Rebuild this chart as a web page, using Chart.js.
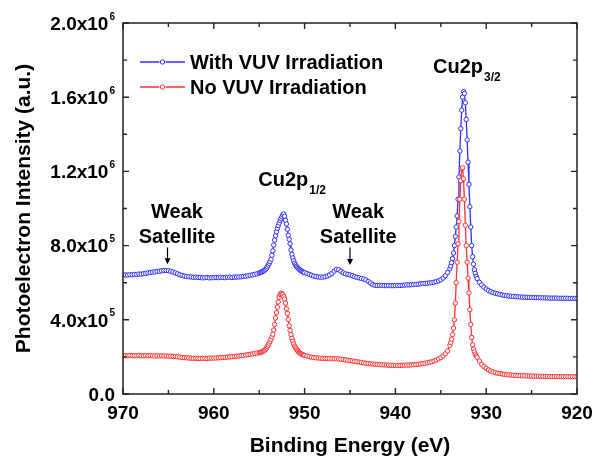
<!DOCTYPE html>
<html><head><meta charset="utf-8">
<script src="https://cdn.jsdelivr.net/npm/chart.js@4.4.1/dist/chart.umd.min.js"></script>
<style>html,body{margin:0;padding:0;background:#fff;}canvas{display:block;}</style>
</head><body>
<canvas id="c" width="594" height="460" style="width:594px;height:460px"></canvas>
<script>
// ---------------- DATA ----------------
// Binding energy (eV), measured grid
const energy = [
 970,969.75,969.5,969.25,969,968.75,968.5,968.25,968,967.75,
 967.5,967.25,967,966.75,966.5,966.25,966,965.75,965.5,965.25,
 965,964.75,964.5,964.25,964,963.75,963.5,963.25,963,962.75,
 962.5,962.25,962,961.75,961.5,961.25,961,960.75,960.5,960.25,
 960,959.75,959.5,959.25,959,958.75,958.5,958.25,958,957.75,
 957.5,957.25,957,956.75,956.5,956.25,956,955.75,955.5,955.25,
 955,954.9,954.8,954.7,954.6,954.5,954.4,954.3,954.2,954.1,
 954,953.9,953.8,953.7,953.6,953.5,953.4,953.3,953.2,953.1,
 953,952.9,952.8,952.7,952.6,952.5,952.4,952.3,952.2,952.1,
 952,951.9,951.8,951.7,951.6,951.5,951.4,951.3,951.2,951.1,
 951,950.9,950.8,950.7,950.6,950.5,950.4,950.3,950.2,950.1,
 950,
 949.75,949.5,949.25,949,948.75,948.5,948.25,948,947.75,947.5,
 947.25,947,946.75,946.5,946.25,946,945.75,945.5,945.25,945,
 944.75,944.5,944.25,944,943.75,943.5,943.25,943,942.75,942.5,
 942.25,942,941.75,941.5,941.25,941,940.75,940.5,940.25,940,
 939.75,939.5,939.25,939,938.75,938.5,938.25,938,937.75,937.5,
 937.25,937,936.75,936.5,936.25,936,935.75,935.5,935.25,935,
 934.75,934.5,934.25,
 934,933.9,933.8,933.7,933.6,933.5,933.4,933.3,933.2,933.1,
 933,932.9,932.8,932.7,932.6,932.5,932.4,932.3,932.2,932.1,
 932,931.9,931.8,931.7,931.6,931.5,931.4,931.3,931.2,931.1,
 931,
 930.75,930.5,930.25,930,929.75,929.5,929.25,929,928.75,928.5,
 928.25,928,927.75,927.5,927.25,927,926.75,926.5,926.25,926,
 925.75,925.5,925.25,925,924.75,924.5,924.25,924,923.75,923.5,
 923.25,923,922.75,922.5,922.25,922,921.75,921.5,921.25,921,
 920.75,920.5,920.25,920
];
// Intensity, thousands of counts
const withVUV = [
 640,642,641,643,642,645,644,647,646,649,
 650,653,654,657,658,661,662,664,666,666,
 665,662,658,653,648,643,639,636,633,632,
 631,629,630,628,628,626,627,628,626,627,
 627,628,627,629,628,627,629,630,628,630,
 630,631,632,634,635,637,640,642,645,648,
 652,654,656,658,661,664,667,672,678,686,
 695,704,714,727,748,772,803,830,853,875,
 893,908,922,935,945,955,966,970,958,936,
 917,888,856,834,810,776,752,734,718,705,
 696,688,682,677,672,668,665,662,659,656,
 654,
 650,645,640,636,633,631,630,630,632,636,
 642,650,662,672,670,662,653,648,645,642,
 638,633,629,626,623,620,615,607,598,590,
 586,585,586,585,584,584,585,584,584,585,
 585,585,586,587,588,588,589,590,591,592,
 594,595,596,597,599,601,603,606,610,616,
 625,638,655,
 675,690,708,730,760,800,850,900,960,1050,
 1170,1310,1430,1530,1600,1630,1620,1570,1480,1370,
 1250,1130,1010,900,800,740,700,670,650,635,
 622,
 602,588,576,566,558,552,547,543,540,537,
 534,532,530,528,527,526,525,524,523,522,
 522,521,521,520,520,519,519,519,518,518,
 518,517,517,517,517,516,516,516,516,516,
 515,515,515,515
];
const noVUV = [
 207,207,206,208,207,206,207,208,206,206,
 207,206,207,206,205,206,205,206,205,205,
 204,204,203,202,200,199,197,196,195,194,
 193,193,192,192,191,192,192,191,193,193,
 194,194,195,196,197,198,199,200,201,202,
 204,205,207,208,210,212,214,216,219,221,
 222,223,225,227,230,233,236,241,248,256,
 264,274,284,295,308,322,345,375,410,438,
 468,496,522,537,543,541,536,525,512,490,
 460,435,402,368,343,320,300,284,270,258,
 250,242,235,229,224,220,217,214,212,210,
 208,
 205,201,198,196,195,194,193,192,192,191,
 191,190,190,190,189,188,186,184,182,180,
 178,176,174,172,170,168,166,164,163,162,
 160,159,158,157,157,156,155,155,155,154,
 154,154,155,155,156,156,157,158,159,160,
 162,164,166,168,171,174,178,183,189,196,
 205,216,232,
 262,278,295,320,355,400,490,600,710,810,
 930,1050,1150,1215,1220,1160,1050,910,800,710,
 625,545,455,375,305,265,242,228,215,205,
 198,
 178,160,148,138,130,124,119,115,112,110,
 108,106,104,103,102,101,100,99,99,98,
 98,97,97,97,96,96,96,95,95,95,
 95,94,94,94,94,94,93,93,93,93,
 93,93,93,93
];
const seriesLabels = ['With VUV Irradiation', 'No VUV Irradiation'];
// Y tick labels (value in thousands, mantissa text, exponent)
const yTickValues   = [0, 400, 800, 1200, 1600, 2000];
const yTickMantissa = ['0.0', '4.0x10', '8.0x10', '1.2x10', '1.6x10', '2.0x10'];
const yTickExponent = ['', '5', '5', '6', '6', '6'];
const xTickValues = [970, 960, 950, 940, 930, 920];
// Annotation texts
const peakLabelMain = ['Cu2p', 'Cu2p'];
const peakLabelSub  = ['3/2', '1/2'];
const satelliteText = ['Weak', 'Satellite'];

// ---------------- STYLE / LAYOUT ----------------
const FONT = '"Liberation Sans", Arial, Helvetica, sans-serif';
const BLUE = '#3030ff', RED = '#ff3030';
// annotation anchors in data coordinates (energy, kcounts)
const peakLabelPos = [{e: 935.85, v: 1730}, {e: 955.1, v: 1121}];
const satPos = [{e: 964.05}, {e: 944.1}];
const satWeakV = 949, satSatV = 815;
const arrowPos = [{e: 965.1, from: 790, to: 700}, {e: 945.0, from: 790, to: 695}];

Chart.defaults.font.family = FONT;
Chart.defaults.color = '#000';

const pts = arr => energy.map((e, i) => ({x: e, y: arr[i]}));

const framePlugin = {
  id: 'frame',
  afterDatasetsDraw(chart) {
    const {ctx, chartArea: a, scales: {x, y}} = chart;
    ctx.save();
    ctx.strokeStyle = '#222';
    ctx.lineWidth = 1.5;
    ctx.strokeRect(a.left, a.top, a.right - a.left, a.bottom - a.top);
    ctx.lineWidth = 1.4;
    ctx.beginPath();
    x.ticks.forEach(t => {
      const px = x.getPixelForValue(t.value);
      const len = (t.value % 10 === 0) ? 6 : 4;
      ctx.moveTo(px, a.bottom); ctx.lineTo(px, a.bottom - len);
      ctx.moveTo(px, a.top); ctx.lineTo(px, a.top + len);
    });
    y.ticks.forEach(t => {
      const py = y.getPixelForValue(t.value);
      const len = (t.value % 400 === 0) ? 6 : 4;
      ctx.moveTo(a.left, py); ctx.lineTo(a.left + len, py);
      ctx.moveTo(a.right, py); ctx.lineTo(a.right - len, py);
    });
    ctx.stroke();
    ctx.restore();
  }
};

const yLabelPlugin = {
  id: 'ylabels',
  afterDraw(chart) {
    const {ctx, chartArea: a, scales: {y}} = chart;
    ctx.save();
    ctx.fillStyle = '#000';
    ctx.textBaseline = 'alphabetic';
    const right = a.left - 8;
    yTickValues.forEach((v, i) => {
      const py = y.getPixelForValue(v);
      ctx.font = 'bold 10px ' + FONT;
      const ew = yTickExponent[i] ? ctx.measureText(yTickExponent[i]).width + 1 : 0;
      ctx.font = 'bold 19px ' + FONT;
      ctx.textAlign = 'right';
      ctx.fillText(yTickMantissa[i], right - ew, py + 6.8);
      if (yTickExponent[i]) {
        ctx.font = 'bold 10px ' + FONT;
        ctx.textAlign = 'left';
        ctx.fillText(yTickExponent[i], right - ew + 1, py - 3.5);
      }
    });
    ctx.restore();
  }
};

const legendPlugin = {
  id: 'customLegend',
  afterDraw(chart) {
    const {ctx, chartArea: a} = chart;
    ctx.save();
    chart.data.datasets.forEach((ds, i) => {
      const cy = a.top + 39 + i * 25;
      const x0 = a.left + 17, x1 = a.left + 62, cx = (x0 + x1) / 2;
      ctx.strokeStyle = ds.borderColor;
      ctx.lineWidth = 1.5;
      ctx.beginPath(); ctx.moveTo(x0, cy); ctx.lineTo(x1, cy); ctx.stroke();
      ctx.fillStyle = '#fff';
      ctx.lineWidth = 1;
      ctx.beginPath(); ctx.arc(cx, cy, 3.2, 0, Math.PI * 2); ctx.fill();
      ctx.beginPath(); ctx.arc(cx, cy, 2.2, 0, Math.PI * 2); ctx.stroke();
      ctx.fillStyle = '#000';
      ctx.font = 'bold 20px ' + FONT;
      ctx.textAlign = 'left'; ctx.textBaseline = 'middle';
      ctx.fillText(ds.label, x1 + 5, cy + 1);
    });
    ctx.restore();
  }
};

const annotationPlugin = {
  id: 'annotations',
  afterDraw(chart) {
    const {ctx, scales: {x, y}} = chart;
    ctx.save();
    ctx.fillStyle = '#000';
    ctx.strokeStyle = '#000';
    ctx.textBaseline = 'alphabetic';
    // peak labels with subscripts
    peakLabelPos.forEach((p, i) => {
      const px = x.getPixelForValue(p.e), py = y.getPixelForValue(p.v);
      ctx.font = 'bold 20px ' + FONT; ctx.textAlign = 'left';
      ctx.fillText(peakLabelMain[i], px, py);
      const w = ctx.measureText(peakLabelMain[i]).width;
      ctx.font = 'bold 12px ' + FONT;
      ctx.fillText(peakLabelSub[i], px + w + 1, py + 8);
    });
    // satellite labels
    satPos.forEach(p => {
      const px = x.getPixelForValue(p.e);
      ctx.font = 'bold 20px ' + FONT; ctx.textAlign = 'center';
      ctx.fillText(satelliteText[0], px, y.getPixelForValue(satWeakV));
      ctx.fillText(satelliteText[1], px, y.getPixelForValue(satSatV));
    });
    // arrows
    arrowPos.forEach(p => {
      const px = x.getPixelForValue(p.e);
      const y0 = y.getPixelForValue(p.from), y1 = y.getPixelForValue(p.to);
      ctx.lineWidth = 1.2;
      ctx.beginPath(); ctx.moveTo(px, y0); ctx.lineTo(px, y1 - 5); ctx.stroke();
      ctx.beginPath(); ctx.moveTo(px - 3, y1 - 6); ctx.lineTo(px + 3, y1 - 6); ctx.lineTo(px, y1); ctx.closePath(); ctx.fill();
    });
    ctx.restore();
  }
};

new Chart(document.getElementById('c'), {
  type: 'scatter',
  data: {
    datasets: [
      { label: seriesLabels[0], data: pts(withVUV), showLine: true,
        borderColor: BLUE, borderWidth: 1.3, pointRadius: 2.2, pointBorderWidth: 1,
        pointBackgroundColor: '#fff', pointBorderColor: BLUE, order: 1 },
      { label: seriesLabels[1], data: pts(noVUV), showLine: true,
        borderColor: RED, borderWidth: 1.3, pointRadius: 2.2, pointBorderWidth: 1,
        pointBackgroundColor: '#fff', pointBorderColor: RED, order: 0 }
    ]
  },
  options: {
    responsive: false, animation: false, devicePixelRatio: 1,
    layout: { padding: { left: 0, right: 17, top: 23, bottom: 0 } },
    plugins: { legend: { display: false }, tooltip: { enabled: false } },
    scales: {
      x: {
        type: 'linear', min: 920, max: 970, reverse: true,
        grid: { display: false, drawTicks: false }, border: { display: false },
        ticks: { stepSize: 5, autoSkip: false, maxRotation: 0, padding: 8,
          font: { size: 19, weight: 'bold' }, color: '#000',
          callback: v => xTickValues.includes(v) ? String(v) : '' },
        title: { display: true, text: 'Binding Energy (eV)', color: '#000',
          font: { size: 21, weight: 'bold' }, padding: { top: 0, bottom: 1 } },
        afterFit: s => { s.height = 66; s.paddingLeft = 0; s.paddingRight = 0; }
      },
      y: {
        type: 'linear', min: 0, max: 2000,
        grid: { display: false, drawTicks: false }, border: { display: false },
        ticks: { display: false, stepSize: 200 },
        title: { display: true, text: 'Photoelectron Intensity (a.u.)', color: '#000',
          font: { size: 21, weight: 'bold' }, padding: { top: 12, bottom: 0 } },
        afterFit: s => { s.width = 123; s.paddingTop = 0; s.paddingBottom = 0; }
      }
    }
  },
  plugins: [framePlugin, yLabelPlugin, legendPlugin, annotationPlugin]
});
</script>
</body></html>
